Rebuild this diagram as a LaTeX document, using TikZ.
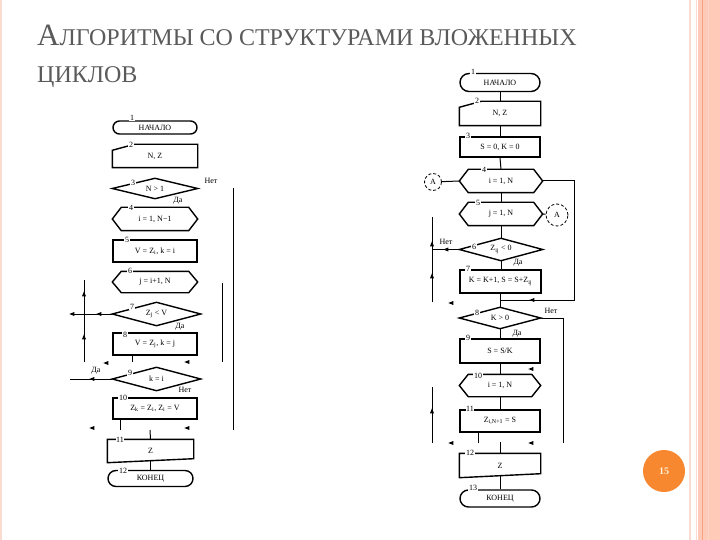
\documentclass[tikz,border=0pt]{standalone}
\usepackage{fontspec}
\setmainfont{Liberation Serif}
\usetikzlibrary{shapes.geometric,arrows.meta,calc}
\definecolor{peach}{HTML}{FFCBB8}
\definecolor{peachline}{HTML}{F2A483}
\definecolor{peachlight}{HTML}{F9DCCF}
\definecolor{pgorange}{HTML}{F7882F}
\definecolor{pgtext}{HTML}{FFF0D6}
\definecolor{titlegray}{HTML}{5A5A5A}
\newcommand\fcHex[1]{\draw[line width=1.4pt] ([xshift=9pt]#1.north west) -- ([xshift=-9pt]#1.north east) -- (#1.east) -- ([xshift=-9pt]#1.south east) -- ([xshift=9pt]#1.south west) -- (#1.west) -- cycle;}
\newcommand\fcDiam[1]{\draw[line width=1.4pt] (#1.north) -- (#1.east) -- (#1.south) -- (#1.west) -- cycle;}
\newcommand\fcInp[1]{\draw[line width=1.4pt] (#1.south west) -- ([yshift=-6pt]#1.north west) -- ([xshift=22pt]#1.north west) -- (#1.north east) -- (#1.south east) -- cycle;}
\newcommand\fcOut[1]{\draw[line width=1.4pt] (#1.south west) -- (#1.north west) -- (#1.north east) -- ([yshift=4pt]#1.south east) -- cycle;}
\begin{document}
\begin{tikzpicture}[x=1pt,y=-1pt,
  blk/.style={minimum width=84pt, minimum height=22pt, inner sep=0pt, font=\fontsize{8}{9}\selectfont, line width=1.4pt},
  proc/.style={blk, draw},
  pill/.style={blk, draw, rounded corners=6.5pt, minimum height=13pt},
  shp/.style={blk},
  num/.style={font=\fontsize{8}{9}\selectfont, fill=white, inner sep=0.6pt},
  yn/.style={font=\fontsize{8}{9}\selectfont, inner sep=0pt},
  flow/.style={line width=1pt},
  tri/.style={isosceles triangle, isosceles triangle stretches, fill=black, draw=none, inner sep=0pt, minimum width=4pt, minimum height=5pt},
  conn/.style={circle, draw, densely dashed, line width=0.8pt, inner sep=0pt, font=\fontsize{8}{9}\selectfont}]
\useasboundingbox (0,0) rectangle (720,540);
\fill[white] (0,0) rectangle (720,540);
% right border
\fill[peach] (698,0) rectangle (720,540);
\fill[peachlight] (689,0) rectangle (691,540);
\fill[peachlight] (695.5,0) rectangle (697,540);
\fill[peachline] (701.5,0) rectangle (702.5,540);
\fill[peachlight!70!peach] (707.5,0) rectangle (708.5,540);
\fill[peachlight] (0,0) rectangle (1.5,540);
% title
\node[anchor=base west, inner sep=0pt, text=titlegray] (t1) at (37,46)
  {\fontsize{31}{32}\selectfont А\fontsize{24}{26}\selectfont ЛГОРИТМЫ СО СТРУКТУРАМИ ВЛОЖЕННЫХ};
\node[anchor=base west, inner sep=0pt, text=titlegray] (t2) at (37,83)
  {\fontsize{24}{26}\selectfont ЦИКЛОВ};
% ---------------- left chart ----------------
\node[pill] (L1) at (155,127.5) {НАЧАЛО};
\node[shp] (L2) at (155,156) {N, Z}; \fcInp{L2}
\node[shp, minimum height=19pt] (L3) at (155,188.5) {N > 1}; \fcDiam{L3}
\node[shp] (L4) at (155,219) {i = 1, N−1}; \fcHex{L4}
\node[proc] (L5) at (155,251) {V = Z\textsubscript{i}, k = i};
\node[shp, minimum height=20pt] (L6) at (155,282) {j = i+1, N}; \fcHex{L6}
\node[shp, minimum width=87pt] (L7) at (156.5,314) {Z\textsubscript{j} < V}; \fcDiam{L7}
\node[proc] (L8) at (155,344) {V = Z\textsubscript{j}, k = j};
\node[shp, minimum width=87pt] (L9) at (156.5,379) {k = i}; \fcDiam{L9}
\node[proc, minimum height=21pt] (L10) at (155,408.5) {Z\textsubscript{k} = Z\textsubscript{i}, Z\textsubscript{i} = V};
\node[shp, minimum width=85pt] (L11) at (150.5,451) {Z}; \fcOut{L11}
\node[pill, minimum width=85pt, minimum height=16pt, rounded corners=8pt] (L12) at (150.5,478.5) {КОНЕЦ};
\node[num] (n1) at (132,118) {1};
\node[num] (n2) at (131,145) {2};
\node[num] (n3) at (133,183) {3};
\node[num] (n4) at (131,208) {4};
\node[num] (n5) at (127,240) {5};
\node[num] (n6) at (130,271) {6};
\node[num] (n7) at (132,307) {7};
\node[num] (n8) at (125,335) {8};
\node[num] (n9) at (130,373) {9};
\node[num] (n10) at (123,398) {10};
\node[num] (n11) at (120,440) {11};
\node[num] (n12) at (123,471) {12};
\node[yn] (y1) at (211,181) {Нет};
\node[yn] (y2) at (178,201) {Да};
\node[yn] (y3) at (180,327) {Да};
\node[yn] (y4) at (96,371) {Да};
\node[yn] (y5) at (185,390) {Нет};
% left connectors
\coordinate (a1) at (233,188); \coordinate (a2) at (233,430);
\coordinate (b1) at (222,283); \coordinate (b2) at (222,362);
\coordinate (c1) at (84,362); \coordinate (c2) at (84,280);
\coordinate (d1) at (72,314); \coordinate (e1) at (70,379);
\coordinate (f1) at (132,362); \coordinate (g1) at (120,430); \coordinate (g2) at (150,430);
\draw[flow] (a1) -- (a2);
\draw[flow] (b1) -- (b2);
\draw[flow] (c1) -- (c2);
\draw[flow] (L7.west) -- (d1);
\draw[flow] (L9.west) -- (e1);
\draw[flow] (L8.south -| f1) -- (f1);
\draw[flow] (L10.south -| g1) -- (g1);
\draw[flow] (g2) -- (L11.north);
\draw[flow] ([yshift=2pt]L11.south) -- (L12.north);
\node[tri, shape border rotate=90] (ta1) at (84,295) {};
\node[tri, shape border rotate=90] (ta2) at (84,338) {};
\node[tri, shape border rotate=180] (ta3) at (100,314) {};
\node[tri, shape border rotate=180] (ta4) at (73,314) {};
\node[tri, shape border rotate=180] (ta5) at (93,379) {};
\node[tri, shape border rotate=180] (ta6) at (107,363) {};
\node[tri, shape border rotate=180] (ta7) at (188,362) {};
\node[tri, shape border rotate=180] (ta8) at (93,428) {};
\node[tri, shape border rotate=180] (ta9) at (188,428) {};
% ---------------- right chart ----------------
\node[pill, minimum width=80pt, minimum height=18pt, rounded corners=9pt] (R1) at (500,82.5) {НАЧАЛО};
\node[shp, minimum width=80pt, minimum height=23pt] (R2) at (500,113.5) {N, Z}; \fcInp{R2}
\node[proc, minimum width=80pt, minimum height=20pt] (R3) at (500,147) {S = 0, K = 0};
\node[shp, minimum width=82pt] (R4) at (501,181) {i = 1, N}; \fcHex{R4}
\node[shp, minimum width=82pt] (R5) at (501,214) {j = 1, N}; \fcHex{R5}
\node[shp, minimum width=82pt, minimum height=21pt] (R6) at (501,249.5) {Z\textsubscript{ij} < 0}; \fcDiam{R6}
\node[proc, minimum width=81pt, minimum height=23pt] (R7) at (500.5,281.5) {K = K+1, S = S+Z\textsubscript{ij}};
\node[shp, minimum width=80pt, minimum height=20pt] (R8) at (500,318) {K > 0}; \fcDiam{R8}
\node[proc, minimum width=80pt, minimum height=24pt] (R9) at (500,351) {S = S/K};
\node[shp, minimum width=80pt, minimum height=21pt] (R10) at (500,385.5) {i = 1, N}; \fcHex{R10}
\node[proc, minimum width=80pt] (R11) at (500,421) {Z\textsubscript{i,N+1} = S};
\node[shp, minimum width=80pt, minimum height=23pt] (R12) at (500,465.5) {Z}; \fcOut{R12}
\node[pill, minimum width=80pt, minimum height=17pt, rounded corners=8.5pt] (R13) at (500,498.5) {КОНЕЦ};
\node[num] (m1) at (473,72) {1};
\node[num] (m2) at (477,101) {2};
\node[num] (m3) at (468,136) {3};
\node[num] (m4) at (484,170) {4};
\node[num] (m5) at (478,203) {5};
\node[num] (m6) at (474,247) {6};
\node[num] (m7) at (468,269) {7};
\node[num] (m8) at (477,313) {8};
\node[num] (m9) at (468,338) {9};
\node[num] (m10) at (478,376) {10};
\node[num] (m11) at (470,409) {11};
\node[num] (m12) at (470,453) {12};
\node[num] (m13) at (473,488) {13};
\node[conn, minimum size=17pt] (CA1) at (433,182) {A};
\node[conn, minimum size=22pt] (CA2) at (557,215) {A};
\node[yn] (z1) at (446,242) {Нет};
\node[yn] (z2) at (518,263) {Да};
\node[yn] (z3) at (551,311) {Нет};
\node[yn] (z4) at (517,334) {Да};
% right connectors
\coordinate (p1) at (574,300); \coordinate (p2) at (500,300);
\coordinate (q1) at (563,443);
\coordinate (s1) at (432,302); \coordinate (s2) at (432,217);
\coordinate (s3) at (432,249.5);
\coordinate (s4) at (432,443); \coordinate (s5) at (432,387);
\coordinate (u1) at (478,443); \coordinate (u2) at (500,442);
\draw[flow] (R1.south) -- (R2.north);
\draw[flow] (R2.south) -- (R3.north);
\draw[flow] (R3.south) -- (R4.north);
\draw[flow] (R4.south) -- (R5.north);
\draw[flow] (R5.south) -- (R6.north);
\draw[flow] (R6.south) -- (R7.north -| R6.south);
\draw[flow] (R7.south -| R8.north) -- (R8.north);
\draw[flow] (R8.south) -- (R9.north);
\draw[flow] (R9.south) -- (R10.north);
\draw[flow] (R10.south) -- (R11.north);
\draw[flow] (R11.south -| u1) -- (u1);
\draw[flow] (u2) -- (R12.north);
\draw[flow] ([yshift=2pt]R12.south) -- (R13.north);
\draw[flow] (R4.east) -| (p1) -- (p2);
\draw[flow] (R8.east) -| (q1);
\draw[flow] (CA1) -- (R4.west);
\draw[flow] (R5.east) -- (CA2);
\draw[flow] (s1) -- (s2);
\draw[flow] (R6.west) -- (s3);
\draw[flow] (s4) -- (s5);
\node[tri, shape border rotate=180] (tb1) at (533,300) {};
\node[tri, shape border rotate=90] (tb2) at (432,245) {};
\node[tri, shape border rotate=90] (tb3) at (432,277) {};
\node[tri, shape border rotate=180] (tb4) at (447,249.5) {};
\node[tri, shape border rotate=90] (tb5) at (432,412) {};
\node[tri, shape border rotate=180] (tb6) at (452,303) {};
\node[tri, shape border rotate=180] (tb7) at (532,369) {};
\node[tri, shape border rotate=180] (tb8) at (452,443) {};
\node[tri, shape border rotate=180] (tb9) at (532,443) {};
% page number
\node[circle, fill=pgorange, minimum size=42pt, inner sep=0pt, text=pgtext, font=\fontsize{10}{11}\selectfont\bfseries] (pg) at (664,471) {15};
\end{tikzpicture}
\end{document}
